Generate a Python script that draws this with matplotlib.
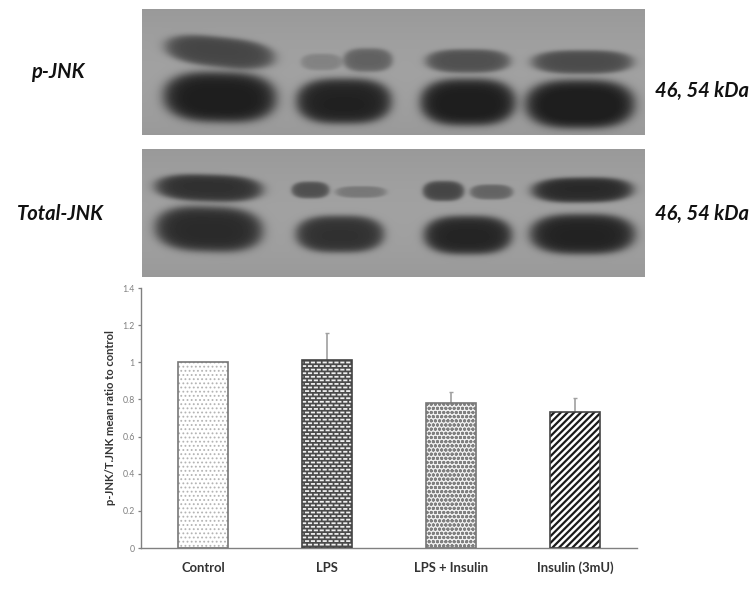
import warnings
import numpy as np
import matplotlib
matplotlib.use("Agg")
import matplotlib.pyplot as plt
import matplotlib.hatch as mhatch
from matplotlib.path import Path

W, H = 756, 597
categories = ["Control", "LPS", "LPS + Insulin", "Insulin (3mU)"]
means = [1.0, 1.015, 0.78, 0.735]
errors = [0.0, 0.145, 0.06, 0.075]
hatches = ["....", "b", "oooo", "/////"]
hatch_colors = ["#b4b4b4", "#f0f0f0", "#808080", "#1a1a1a"]
hatch_widths = [0.8, 1.3, 1.0, 1.6]
edge_colors = ["#777777", "#444444", "#777777", "#444444"]
face_colors = ["white", "#4a4a4a", "#f0f0f0", "white"]
y_ticks = [0, 0.2, 0.4, 0.6, 0.8, 1.0, 1.2, 1.4]
y_tick_labels = ["0", "0.2", "0.4", "0.6", "0.8", "1", "1.2", "1.4"]
y_label = "p-JNK/T.JNK mean ratio to control"

# Bands read from the blots: left, right, centre y, half height, darkness, tilt
pjnk_bands = [
    (158, 282, 52, 18, 0.36, 0.10), (298, 345, 62, 10, 0.12, 0.0), (340, 396, 60, 14, 0.25, 0.0),
    (420, 516, 61, 14, 0.32, 0.0), (525, 640, 62, 14, 0.34, 0.0),
    (156, 284, 97, 30, 0.52, 0.02), (290, 398, 101, 27, 0.50, 0.0),
    (414, 522, 102, 28, 0.52, 0.0), (518, 642, 104, 29, 0.53, 0.0),
]
tjnk_bands = [
    (148, 270, 188, 16, 0.44, 0.03), (289, 332, 190, 10, 0.32, 0.0), (332, 390, 192, 7, 0.16, 0.0),
    (420, 467, 191, 12, 0.36, 0.0), (467, 516, 192, 9, 0.24, 0.0), (525, 640, 190, 15, 0.47, -0.01),
    (148, 270, 229, 27, 0.47, 0.03), (290, 390, 234, 22, 0.44, 0.0),
    (418, 518, 235, 23, 0.49, 0.0), (523, 642, 234, 24, 0.50, 0.0),
]
background = 0.60


class BrickDashes(mhatch.HatchPatternBase):
    """Staggered short horizontal dashes, as in the brick fill of the LPS bar."""
    rows = 28
    dashes = 17

    def __init__(self, hatch, density):
        self.active = hatch.count("b") > 0
        self.num_vertices = self.rows * self.dashes * 2 if self.active else 0

    def set_vertices_and_codes(self, vertices, codes):
        k = 0
        for r in range(self.rows):
            y = (r + 0.5) / self.rows
            shift = 0.5 * (r % 2)
            for d in range(self.dashes):
                a = (d + shift) / self.dashes
                b = a + 0.4 / self.dashes
                vertices[k] = (a, y)
                vertices[k + 1] = (b, y)
                codes[k] = Path.MOVETO
                codes[k + 1] = Path.LINETO
                k += 2


mhatch._hatch_types.append(BrickDashes)
warnings.filterwarnings("ignore")


def axes_px(fig, x0, y0, x1, y1):
    return fig.add_axes([x0 / W, 1 - y1 / H, (x1 - x0) / W, (y1 - y0) / H])


def blot(fig, box, bands, base):
    x0, y0, x1, y1 = box
    ax = axes_px(fig, x0, y0, x1, y1)
    xx, yy = np.meshgrid(np.arange(x0, x1) + 0.5, np.arange(y0, y1) + 0.5)
    img = base + 0.03 * np.cos((yy - (y0 + y1) / 2) / (y1 - y0) * np.pi)
    for left, right, cy, hh, dark, tilt in bands:
        cx, hw = (left + right) / 2, (right - left) / 2
        u = (xx - cx) / hw
        v = (yy - cy - tilt * (xx - cx)) / hh
        r = np.abs(u) ** 3 + np.abs(v) ** 2.2
        img = img - dark * (1 / (1 + np.exp((r - 0.62) / 0.15)))
    ax.imshow(np.clip(img, 0.12, 1), cmap="gray", vmin=0, vmax=1, aspect="auto",
              extent=(x0, x1, y1, y0), interpolation="bilinear")
    ax.axis("off")


plt.rcParams["font.family"] = ["Lato", "DejaVu Sans"]
fig = plt.figure(figsize=(W / 100, H / 100), dpi=100, facecolor="white")

blot(fig, (142, 9, 645, 135), pjnk_bands, background)
blot(fig, (142, 149, 645, 277), tjnk_bands, background)


def label(x, y, s, ha="center"):
    fig.text(x / W, 1 - y / H, s, ha=ha, va="center", fontsize=14.5, fontweight="bold",
             fontstyle="italic", color="#111111")


label(58, 72, "p-JNK")
label(60, 214, "Total-JNK")
label(702, 91, "46, 54 kDa")
label(702, 214, "46, 54 kDa")

ax = axes_px(fig, 141, 288, 637, 548)
x = np.arange(len(categories))
for i in x:
    with plt.rc_context({"hatch.linewidth": hatch_widths[i]}):
        ax.bar(i, means[i], 0.403, facecolor=face_colors[i], edgecolor=hatch_colors[i],
               hatch=hatches[i], linewidth=0, zorder=2)
    ax.bar(i, means[i], 0.403, facecolor="none", edgecolor=edge_colors[i], linewidth=1.2, zorder=3)
    if errors[i] > 0:
        ax.errorbar(i, means[i], yerr=[[0], [errors[i]]], ecolor="#a0a0a0", elinewidth=1.2,
                    capsize=1.5, capthick=1, fmt="none", zorder=1)
ax.set_xlim(-0.5, 3.5)
ax.set_ylim(0, 1.4)
ax.set_yticks(y_ticks, y_tick_labels, fontsize=6.3, color="#808080")
ax.set_xticks(x, categories, fontsize=9.4, fontweight="bold", color="#333333")
ax.tick_params(axis="y", length=2.5, width=0.9, color="#808080", pad=2)
ax.tick_params(axis="x", length=0, pad=17)
for t in ax.get_xticklabels():
    t.set_verticalalignment("baseline")
ax.spines[["top", "right"]].set_visible(False)
ax.spines[["left", "bottom"]].set_color("#808080")
ax.spines[["left", "bottom"]].set_linewidth(1.0)
fig.text(110 / W, 1 - 418 / H, y_label, rotation=90, ha="center", va="center",
         fontsize=8.1, fontweight="bold", color="#333333")

fig.savefig("out.png", dpi=100)
